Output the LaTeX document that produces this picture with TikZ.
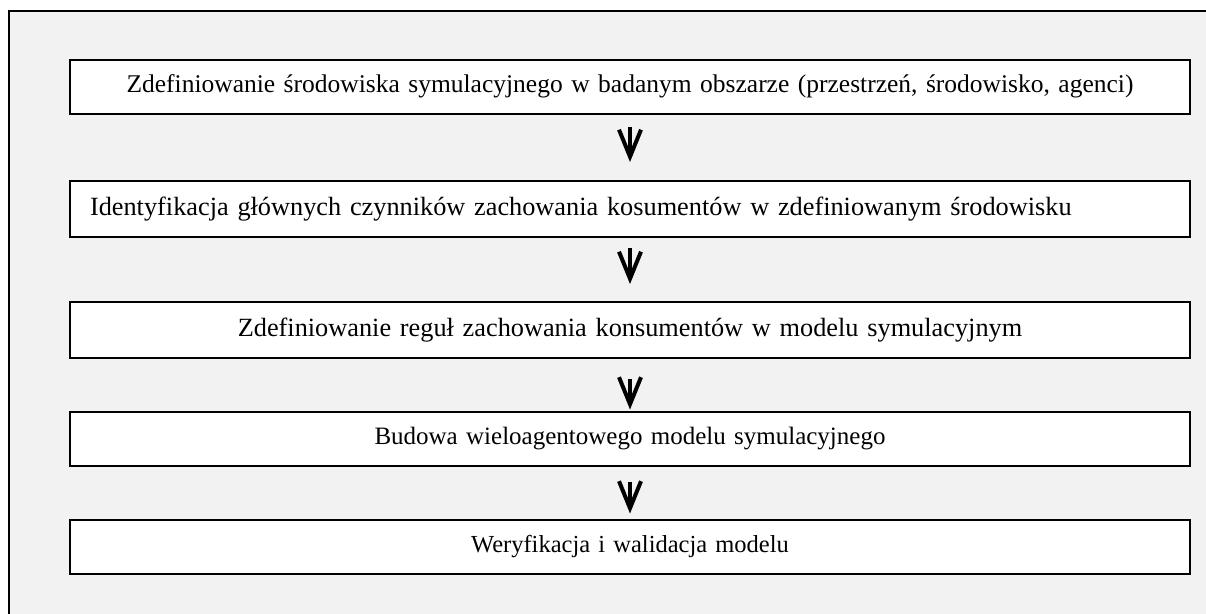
\documentclass[tikz,border=0pt]{standalone}
\usepackage{fontspec}
\setmainfont{Liberation Serif}
\usetikzlibrary{positioning, arrows.meta}
\definecolor{framegray}{HTML}{F2F2F2}

\begin{document}
\begin{tikzpicture}[x=1pt, y=-1pt, on grid, >={Straight Barb[length=27pt, width=22pt, line width=4pt]},
    stage/.style={draw, line width=2pt, fill=white, minimum width=1120pt, minimum height=54pt,
        inner xsep=20pt, text width=1080pt, align=center, font=\fontsize{25}{30}\selectfont},
    flow/.style={->, line width=3.5pt}]
    % Frame
    \useasboundingbox (0,0) rectangle (1206,613);
    \clip (0,0) rectangle (1206,613);
    \draw[line width=2pt, fill=framegray] (9,11) rectangle (1240,650);

    % Nodes
    \node[stage, font=\fontsize{25.5}{30}\selectfont] (define) at (630,86.5) {Zdefiniowanie środowiska symulacyjnego w badanym obszarze (przestrzeń, środowisko, agenci)};
    \node[stage, minimum height=56pt, align=left, font=\fontsize{26.3}{30}\selectfont] (identify) [below=122.5pt of define] {Identyfikacja głównych czynników zachowania kosumentów w zdefiniowanym środowisku};
    \node[stage, minimum height=56pt, font=\fontsize{26.3}{30}\selectfont] (rules) [below=121pt of identify] {Zdefiniowanie reguł zachowania konsumentów w modelu symulacyjnym};
    \node[stage] (build) [below=108.5pt of rules] {Budowa wieloagentowego modelu symulacyjnego};
    \node[stage, font=\fontsize{24.5}{30}\selectfont] (check) [below=108pt of build] {Weryfikacja i walidacja modelu};

    % Arrows
    \path[flow]
        (define) edge [shorten <=12pt, shorten >=18pt] (identify)
        (identify) edge [shorten <=10pt, shorten >=17pt] (rules)
        (rules) edge [shorten <=20pt, shorten >=1pt] (build)
        (build) edge [shorten <=15pt, shorten >=5pt] (check);

\end{tikzpicture}
\end{document}
